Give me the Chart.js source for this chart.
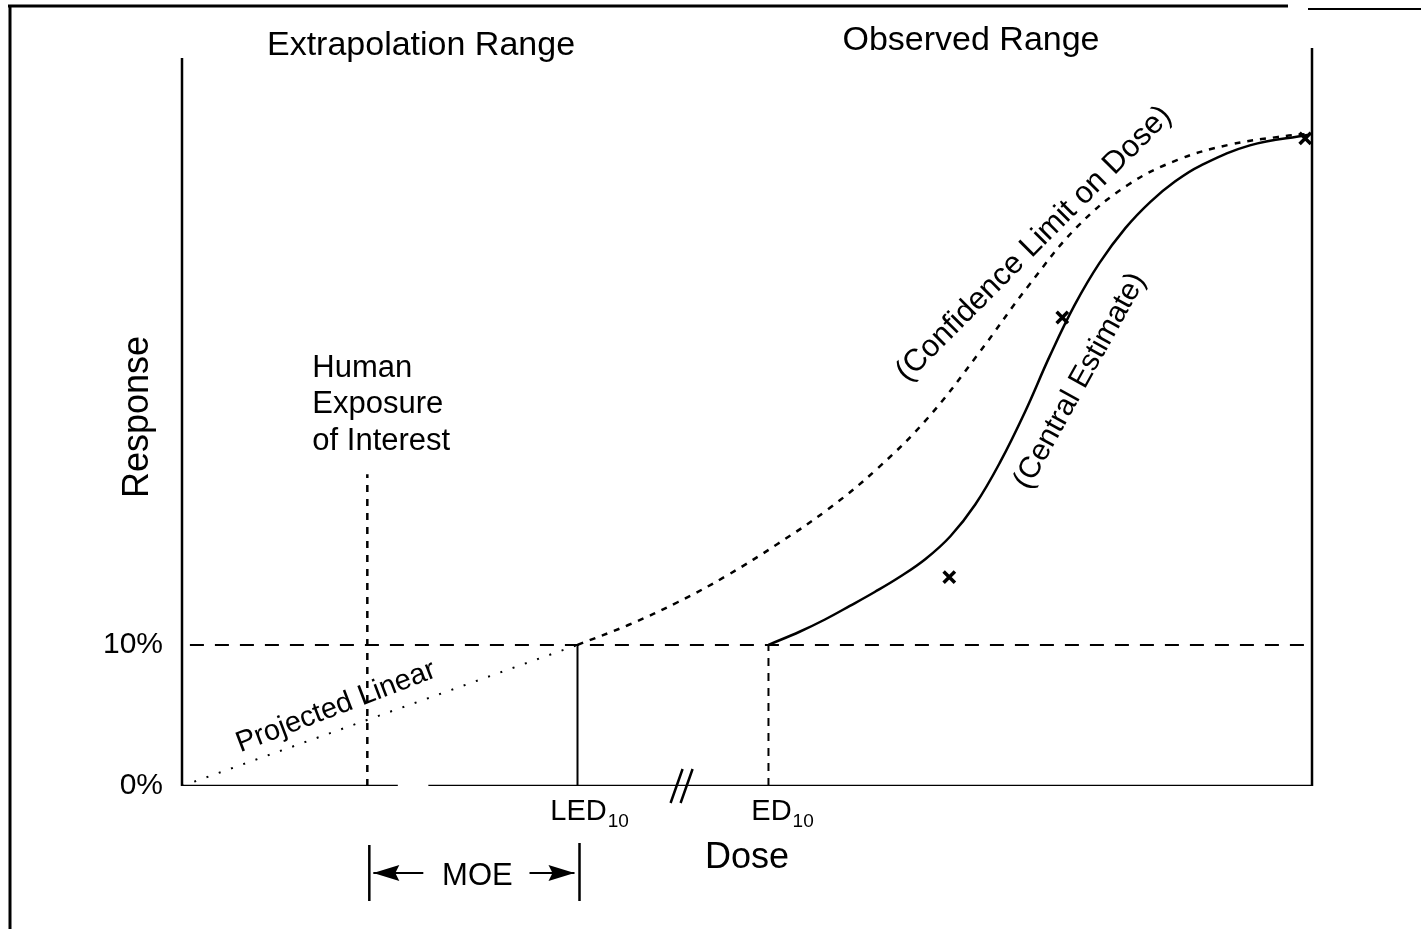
<!DOCTYPE html>
<html lang="en">
  <head>
    <meta charset="UTF-8" />
    <title>Dose-Response: Extrapolation vs Observed Range</title>
    <script src="https://cdn.jsdelivr.net/npm/chart.js"></script>
    <style>
      body {
        margin: 0;
        background: #fff;
      }
      #chartContainer {
        width: 1421px;
        height: 929px;
      }
    </style>
  </head>
  <body>
    <div id="chartContainer">
      <canvas id="doseChart"></canvas>
    </div>

    <script>
      const FONT = '"Liberation Sans", Arial, Helvetica, sans-serif';

      // doses (arbitrary units, 0..100 across the axis)
      const humanDose = 16.4;
      const ledDose = 35.0;
      const edDose = 51.9;
      const maxDose = 100;
      const axisGapDose = [19.1, 21.8];
      const axisBreakDose = 44.3;

      // response in %
      const benchmarkResponse = 10;
      const responseTicks = [0, 10];
      const humanLineTop = 22.1;
      const leftAxisTop = 51.6;
      const responseMax = 52.3;

      // central estimate (solid)
      const centralDose = [51.9, 54.7, 56.9, 59.1, 61.3, 63.5, 65.8, 68.0, 70.2, 72.4, 74.6, 76.8, 79.0, 81.2, 83.5, 85.7, 87.9, 90.1, 94.5, 99.6];
      const centralResp = [10, 10.95, 11.8, 12.76, 13.75, 14.81, 16.09, 17.7, 19.95, 22.95, 26.51, 30.48, 34.09, 37.07, 39.55, 41.4, 42.85, 43.95, 45.4, 46.14];

      // confidence limit on dose (dashed)
      const confDose = [35.0, 39.5, 43.9, 48.3, 52.7, 57.2, 61.6, 66.0, 70.4, 74.9, 79.3, 83.7, 88.1, 92.6, 97.0, 99.6];
      const confResp = [10, 11.41, 13.04, 14.95, 17.15, 19.63, 22.54, 26.08, 30.55, 35.44, 39.69, 42.59, 44.37, 45.43, 46.0, 46.21];

      // observed data points (x marks)
      const obsDose = [67.9, 77.9, 99.4];
      const obsResp = [14.8, 33.2, 45.9];

      function pts(xs, ys) {
        return xs.map((x, i) => ({ x: x, y: ys[i] }));
      }

      function lineSet(data, width, dash, extra) {
        return Object.assign(
          {
            data: data,
            borderColor: "#000",
            backgroundColor: "#000",
            borderWidth: width,
            borderDash: dash || [],
            pointRadius: 0,
            fill: false,
            tension: 0,
          },
          extra || {}
        );
      }

      const datasets = [
        // axes: x drawn as two pieces with a gap
        lineSet(pts([0, axisGapDose[0]], [0, 0]), 2.5),
        lineSet(pts([axisGapDose[1], maxDose], [0, 0]), 2.5),
        lineSet(pts([0, 0], [0, leftAxisTop]), 2.5, null, { clip: false }),
        lineSet(pts([maxDose, maxDose], [0, responseMax]), 2.5, null, { clip: false }),
        // 10% benchmark line
        lineSet(pts([0.7, maxDose], [benchmarkResponse, benchmarkResponse]), 2, [14, 11]),
        // human exposure
        lineSet(pts([humanDose, humanDose], [0, humanLineTop]), 2.5, [7, 7]),
        // LED10 and ED10 drops
        lineSet(pts([ledDose, ledDose], [0, benchmarkResponse]), 2),
        lineSet(pts([edDose, edDose], [0, benchmarkResponse]), 2, [8, 7]),
        // projected linear
        lineSet(pts([0, ledDose], [0, benchmarkResponse]), 2, [2, 11]),
        // confidence limit
        lineSet(pts(confDose, confResp), 2.5, [6, 7], { tension: 0.4 }),
        // central estimate
        lineSet(pts(centralDose, centralResp), 2.5, null, { tension: 0.4 }),
        // observations
        {
          data: pts(obsDose, obsResp),
          showLine: false,
          pointStyle: "crossRot",
          pointRadius: 8,
          pointBorderWidth: 3.5,
          pointBorderColor: "#000",
          clip: false,
        },
      ];

      function text(ctx, str, x, y, size, align, rot) {
        ctx.save();
        ctx.translate(x, y);
        if (rot) ctx.rotate((rot * Math.PI) / 180);
        ctx.font = size + "px " + FONT;
        ctx.fillStyle = "#000";
        ctx.textAlign = align || "center";
        ctx.textBaseline = rot ? "middle" : "alphabetic";
        ctx.fillText(str, 0, 0);
        ctx.restore();
      }

      function subLabel(ctx, main, sub, cx, y) {
        ctx.save();
        ctx.font = "29px " + FONT;
        const w = ctx.measureText(main).width;
        ctx.restore();
        text(ctx, main, cx - w / 2, y, 29, "left");
        text(ctx, sub, cx + w / 2 + 1, y + 7, 19, "left");
      }

      function arrow(ctx, tipX, tailX, y) {
        const dir = tipX < tailX ? 1 : -1;
        ctx.beginPath();
        ctx.moveTo(tipX, y);
        ctx.lineTo(tailX, y);
        ctx.stroke();
        ctx.beginPath();
        ctx.moveTo(tipX, y);
        ctx.lineTo(tipX + dir * 26, y - 8);
        ctx.lineTo(tipX + dir * 22, y);
        ctx.lineTo(tipX + dir * 26, y + 8);
        ctx.closePath();
        ctx.fill();
      }

      const annotations = {
        id: "annotations",
        afterDraw(chart) {
          const ctx = chart.ctx;
          const xs = chart.scales.x;
          const ys = chart.scales.y;
          const y0 = ys.getPixelForValue(0);

          ctx.save();
          ctx.strokeStyle = "#000";
          ctx.fillStyle = "#000";

          // page frame
          ctx.lineWidth = 3;
          ctx.beginPath();
          ctx.moveTo(10, 5);
          ctx.lineTo(10, 929);
          ctx.moveTo(8, 6);
          ctx.lineTo(1288, 6);
          ctx.stroke();
          ctx.lineWidth = 2;
          ctx.beginPath();
          ctx.moveTo(1308, 9);
          ctx.lineTo(1421, 9);
          ctx.stroke();

          // axis break marks
          const bx = xs.getPixelForValue(axisBreakDose);
          ctx.lineWidth = 2.5;
          ctx.beginPath();
          ctx.moveTo(bx - 12, y0 + 17);
          ctx.lineTo(bx, y0 - 17);
          ctx.moveTo(bx - 2, y0 + 17);
          ctx.lineTo(bx + 10, y0 - 17);
          ctx.stroke();

          // MOE dimension
          const hx = xs.getPixelForValue(humanDose) + 2;
          const lx = xs.getPixelForValue(ledDose) + 2;
          const my = 873;
          ctx.lineWidth = 2.5;
          ctx.beginPath();
          ctx.moveTo(hx, 845);
          ctx.lineTo(hx, 901);
          ctx.moveTo(lx, 843);
          ctx.lineTo(lx, 901);
          ctx.stroke();
          ctx.lineWidth = 2;
          arrow(ctx, hx + 4, hx + 54, my);
          arrow(ctx, lx - 5, lx - 50, my);
          text(ctx, "MOE", (hx + lx) / 2 + 3, my + 12, 31, "center");

          ctx.restore();

          // range headings
          text(ctx, "Extrapolation Range", 421, 55, 34, "center");
          text(ctx, "Observed Range", 971, 50, 34, "center");

          // human exposure label
          const hl = xs.getPixelForValue(humanDose) - 55;
          text(ctx, "Human", hl, 377, 31, "left");
          text(ctx, "Exposure", hl, 413, 31, "left");
          text(ctx, "of Interest", hl, 450, 31, "left");

          // dose labels
          subLabel(ctx, "LED", "10", xs.getPixelForValue(ledDose) + 1, 820);
          subLabel(ctx, "ED", "10", xs.getPixelForValue(edDose) + 3, 820);

          // curve labels
          text(ctx, "Projected Linear", 336, 707, 29, "center", -21);
          text(ctx, "(Confidence Limit on Dose)", 1034, 244, 31, "center", -45);
          text(ctx, "(Central Estimate)", 1080, 381, 30, "center", -61);
        },
      };

      new Chart(document.getElementById("doseChart"), {
        type: "line",
        data: { datasets: datasets },
        options: {
          responsive: true,
          maintainAspectRatio: false,
          animation: false,
          layout: { padding: { top: 48, right: 109, left: 0, bottom: 0 } },
          plugins: {
            legend: { display: false },
            tooltip: { enabled: false },
          },
          scales: {
            x: {
              type: "linear",
              min: 0,
              max: maxDose,
              grid: { display: false, drawTicks: false },
              border: { display: false },
              ticks: { display: false },
              title: {
                display: true,
                text: "Dose",
                color: "#000",
                font: { family: FONT, size: 36 },
                padding: { top: 0, bottom: 49 },
              },
              afterFit: (s) => {
                s.height = 143;
              },
            },
            y: {
              type: "linear",
              min: 0,
              max: responseMax,
              grid: { display: false, drawTicks: false },
              border: { display: false },
              afterBuildTicks: (s) => {
                s.ticks = responseTicks.map((v) => ({ value: v }));
              },
              ticks: {
                callback: (v) => v + "%",
                color: "#000",
                font: { family: FONT, size: 30 },
                padding: 19,
              },
              title: {
                display: true,
                text: "Response",
                color: "#000",
                font: { family: FONT, size: 36 },
                padding: { top: 116, bottom: 0 },
              },
              afterFit: (s) => {
                s.width = 182;
              },
            },
          },
        },
        plugins: [annotations],
      });
    </script>
  </body>
</html>
